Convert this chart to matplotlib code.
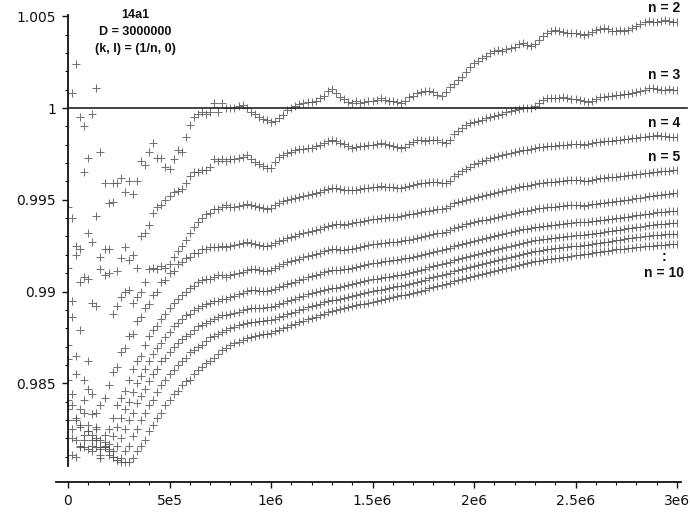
import numpy as np
import matplotlib
matplotlib.use("Agg")
import matplotlib.pyplot as plt
from matplotlib.ticker import MultipleLocator, FixedLocator, FixedFormatter

# ---------------- data ----------------
D_STEP = 20000  # spacing of the sampled D values

n2 = [1.0051, 1.0008, 1.0024, 0.9995, 0.9990, 0.9973, 0.9997, 1.0011, 0.9976, 0.9959,
      0.9948, 0.9959, 0.9959, 0.9962, 0.9954, 0.9960, 0.9953, 0.9960, 0.9971, 0.9969,
      0.9976, 0.9981, 0.9973, 0.9973, 0.9968, 0.9967, 0.9972, 0.9977, 0.9976, 0.9984,
      0.9991, 0.9995, 0.9997, 0.9998, 0.9997, 0.9998, 1.0003, 0.9998, 1.0003, 1.0000,
      1.0000,
      1.00000, 1.00011, 1.00017, 1.00000, 0.99979, 0.99968, 0.99951, 0.99940, 0.99935, 0.99924,
      0.99930, 0.99946, 0.99962, 0.99990, 1.00000, 1.00011, 1.00022, 1.00028, 1.00033, 1.00033,
      1.00039, 1.00055, 1.00066, 1.00093, 1.00104, 1.00082, 1.00060, 1.00049, 1.00033, 1.00028,
      1.00039, 1.00028, 1.00033, 1.00039, 1.00039, 1.00044, 1.00055, 1.00044, 1.00039, 1.00039,
      1.00033, 1.00028, 1.00039, 1.00060, 1.00066, 1.00082, 1.00087, 1.00093, 1.00093, 1.00087,
      1.00071, 1.00066, 1.00087, 1.00115, 1.00131, 1.00153, 1.00169, 1.00197, 1.00224, 1.00246,
      1.00257, 1.00273, 1.00284, 1.00300, 1.00311, 1.00316, 1.00311, 1.00322, 1.00327, 1.00333,
      1.00349, 1.00355, 1.00344, 1.00338, 1.00349, 1.00371, 1.00393, 1.00409, 1.00420, 1.00426,
      1.00420, 1.00415, 1.00409, 1.00409, 1.00409, 1.00404, 1.00398, 1.00404, 1.00415, 1.00426,
      1.00431, 1.00436, 1.00431, 1.00420, 1.00420, 1.00426, 1.00420, 1.00426, 1.00436, 1.00447,
      1.00458, 1.00469, 1.00475, 1.00469, 1.00469, 1.00475, 1.00480, 1.00475, 1.00469, 1.00469]

n3 = [0.9946, 0.9940, 0.9925, 0.9923, 0.9965, 0.9932, 0.9927, 0.9941, 0.9919, 0.9923,
      0.9923, 0.9949, 0.9911, 0.9918, 0.9924, 0.9917, 0.9920, 0.9913, 0.9930, 0.9932,
      0.9936, 0.9943, 0.9946, 0.9947, 0.9950, 0.9952, 0.9954, 0.9955, 0.9956, 0.9959,
      0.9963, 0.9965, 0.9965, 0.9966, 0.9966, 0.9968, 0.9972, 0.9971, 0.9972, 0.9971,
      0.9972,
      0.99723, 0.99728, 0.99733, 0.99744, 0.99723, 0.99706, 0.99695, 0.99684, 0.99673, 0.99673,
      0.99706, 0.99733, 0.99744, 0.99755, 0.99761, 0.99772, 0.99777, 0.99777, 0.99782, 0.99782,
      0.99793, 0.99799, 0.99810, 0.99821, 0.99826, 0.99821, 0.99810, 0.99804, 0.99793, 0.99782,
      0.99788, 0.99793, 0.99793, 0.99799, 0.99799, 0.99804, 0.99810, 0.99804, 0.99799, 0.99793,
      0.99788, 0.99782, 0.99788, 0.99804, 0.99815, 0.99826, 0.99826, 0.99821, 0.99826, 0.99826,
      0.99826, 0.99815, 0.99810, 0.99826, 0.99859, 0.99875, 0.99891, 0.99908, 0.99919, 0.99924,
      0.99930, 0.99935, 0.99946, 0.99951, 0.99957, 0.99962, 0.99968, 0.99979, 0.99984, 0.99990,
      0.99995, 1.00000, 1.00000, 1.00000, 1.00011, 1.00028, 1.00044, 1.00055, 1.00055, 1.00055,
      1.00055, 1.00060, 1.00055, 1.00049, 1.00049, 1.00044, 1.00039, 1.00033, 1.00039, 1.00049,
      1.00060, 1.00060, 1.00066, 1.00066, 1.00071, 1.00071, 1.00077, 1.00077, 1.00082, 1.00087,
      1.00093, 1.00098, 1.00109, 1.00109, 1.00104, 1.00098, 1.00098, 1.00104, 1.00098, 1.00098]

n4 = [0.9913, 0.9886, 0.9920, 0.9905, 0.9908, 0.9907, 0.9894, 0.9892, 0.9912, 0.9909,
      0.9910, 0.9888, 0.9892, 0.9897, 0.9900, 0.9901, 0.9894, 0.9897, 0.9900, 0.9905,
      0.9912, 0.9913, 0.9912, 0.9914, 0.9913, 0.9915, 0.9919, 0.9922, 0.9925, 0.9928,
      0.9932, 0.9935, 0.9938, 0.9940, 0.9942, 0.9943, 0.9945, 0.9945, 0.9946, 0.9947,
      0.9946,
      0.99461, 0.99466, 0.99472, 0.99477, 0.99472, 0.99466, 0.99461, 0.99455, 0.99450, 0.99455,
      0.99472, 0.99483, 0.99494, 0.99499, 0.99505, 0.99510, 0.99515, 0.99521, 0.99526, 0.99532,
      0.99537, 0.99543, 0.99554, 0.99559, 0.99565, 0.99565, 0.99559, 0.99554, 0.99554, 0.99554,
      0.99554, 0.99559, 0.99565, 0.99565, 0.99570, 0.99570, 0.99575, 0.99570, 0.99570, 0.99570,
      0.99565, 0.99565, 0.99570, 0.99575, 0.99581, 0.99586, 0.99592, 0.99592, 0.99597, 0.99597,
      0.99597, 0.99592, 0.99592, 0.99603, 0.99630, 0.99641, 0.99657, 0.99668, 0.99679, 0.99695,
      0.99701, 0.99712, 0.99717, 0.99728, 0.99733, 0.99739, 0.99744, 0.99750, 0.99755, 0.99761,
      0.99766, 0.99772, 0.99772, 0.99777, 0.99782, 0.99788, 0.99788, 0.99793, 0.99793, 0.99793,
      0.99799, 0.99799, 0.99799, 0.99804, 0.99804, 0.99804, 0.99799, 0.99804, 0.99810, 0.99815,
      0.99815, 0.99821, 0.99821, 0.99821, 0.99826, 0.99826, 0.99831, 0.99831, 0.99837, 0.99837,
      0.99842, 0.99842, 0.99848, 0.99848, 0.99853, 0.99848, 0.99848, 0.99842, 0.99842, 0.99842]

n5 = [0.9871, 0.9895, 0.9865, 0.9879, 0.9852, 0.9862, 0.9844, 0.9834, 0.9838, 0.9842,
      0.9849, 0.9856, 0.9859, 0.9867, 0.9869, 0.9876, 0.9877, 0.9884, 0.9886, 0.9891,
      0.9893, 0.9898, 0.9900, 0.9905, 0.9906, 0.9910, 0.9911, 0.9915, 0.9916, 0.9918,
      0.9919, 0.9921, 0.9921, 0.9923, 0.9923, 0.9924, 0.9924, 0.9924, 0.9925, 0.9924,
      0.9925,
      0.99254, 0.99259, 0.99265, 0.99270, 0.99265, 0.99259, 0.99254, 0.99248, 0.99248, 0.99254,
      0.99265, 0.99276, 0.99281, 0.99292, 0.99297, 0.99303, 0.99314, 0.99319, 0.99325, 0.99330,
      0.99336, 0.99341, 0.99352, 0.99357, 0.99363, 0.99368, 0.99368, 0.99363, 0.99368, 0.99374,
      0.99379, 0.99379, 0.99385, 0.99390, 0.99395, 0.99395, 0.99401, 0.99401, 0.99406, 0.99406,
      0.99406, 0.99412, 0.99417, 0.99423, 0.99423, 0.99428, 0.99434, 0.99439, 0.99439, 0.99445,
      0.99450, 0.99450, 0.99455, 0.99466, 0.99483, 0.99488, 0.99494, 0.99499, 0.99505, 0.99510,
      0.99515, 0.99521, 0.99526, 0.99532, 0.99537, 0.99543, 0.99548, 0.99554, 0.99559, 0.99565,
      0.99570, 0.99575, 0.99575, 0.99581, 0.99586, 0.99592, 0.99592, 0.99597, 0.99597, 0.99597,
      0.99603, 0.99603, 0.99608, 0.99608, 0.99608, 0.99608, 0.99603, 0.99603, 0.99608, 0.99613,
      0.99619, 0.99619, 0.99624, 0.99624, 0.99624, 0.99630, 0.99630, 0.99635, 0.99635, 0.99641,
      0.99641, 0.99646, 0.99646, 0.99651, 0.99651, 0.99657, 0.99657, 0.99657, 0.99662, 0.99662]

n6 = [0.9863, 0.9844, 0.9855, 0.9836, 0.9841, 0.9847, 0.9833, 0.9825, 0.9819, 0.9822,
      0.9825, 0.9831, 0.9838, 0.9842, 0.9846, 0.9852, 0.9858, 0.9862, 0.9865, 0.9871,
      0.9876, 0.9879, 0.9881, 0.9885, 0.9888, 0.9891, 0.9894, 0.9896, 0.9898, 0.9900,
      0.9902, 0.9903, 0.9905, 0.9906, 0.9907, 0.9907, 0.9908, 0.9909, 0.9909, 0.9908,
      0.9909,
      0.99096, 0.99101, 0.99107, 0.99118, 0.99123, 0.99123, 0.99118, 0.99112, 0.99112, 0.99118,
      0.99128, 0.99139, 0.99150, 0.99161, 0.99167, 0.99172, 0.99178, 0.99188, 0.99194, 0.99199,
      0.99205, 0.99210, 0.99221, 0.99226, 0.99232, 0.99232, 0.99226, 0.99226, 0.99232, 0.99232,
      0.99237, 0.99243, 0.99248, 0.99254, 0.99259, 0.99259, 0.99265, 0.99265, 0.99270, 0.99270,
      0.99270, 0.99276, 0.99281, 0.99281, 0.99287, 0.99292, 0.99297, 0.99303, 0.99308, 0.99314,
      0.99319, 0.99319, 0.99325, 0.99336, 0.99346, 0.99352, 0.99357, 0.99368, 0.99374, 0.99379,
      0.99385, 0.99390, 0.99390, 0.99395, 0.99401, 0.99406, 0.99412, 0.99417, 0.99423, 0.99428,
      0.99434, 0.99439, 0.99439, 0.99445, 0.99450, 0.99455, 0.99455, 0.99461, 0.99461, 0.99461,
      0.99466, 0.99466, 0.99472, 0.99472, 0.99472, 0.99472, 0.99466, 0.99472, 0.99477, 0.99477,
      0.99483, 0.99483, 0.99488, 0.99488, 0.99494, 0.99494, 0.99499, 0.99499, 0.99505, 0.99510,
      0.99510, 0.99515, 0.99521, 0.99521, 0.99526, 0.99526, 0.99532, 0.99532, 0.99537, 0.99537]

n7 = [0.9852, 0.9838, 0.9830, 0.9816, 0.9834, 0.9824, 0.9819, 0.9826, 0.9815, 0.9815,
      0.9817, 0.9821, 0.9826, 0.9831, 0.9836, 0.9840, 0.9845, 0.9850, 0.9854, 0.9858,
      0.9862, 0.9866, 0.9869, 0.9872, 0.9875, 0.9878, 0.9881, 0.9883, 0.9885, 0.9887,
      0.9888, 0.9890, 0.9891, 0.9892, 0.9893, 0.9894, 0.9895, 0.9895, 0.9896, 0.9896,
      0.9897,
      0.98976, 0.98987, 0.98992, 0.99003, 0.99008, 0.99008, 0.99003, 0.99003, 0.99003, 0.99008,
      0.99014, 0.99025, 0.99030, 0.99041, 0.99047, 0.99052, 0.99063, 0.99068, 0.99079, 0.99085,
      0.99090, 0.99096, 0.99107, 0.99112, 0.99118, 0.99118, 0.99118, 0.99123, 0.99123, 0.99128,
      0.99134, 0.99139, 0.99145, 0.99150, 0.99156, 0.99156, 0.99161, 0.99167, 0.99167, 0.99172,
      0.99172, 0.99178, 0.99183, 0.99183, 0.99188, 0.99194, 0.99199, 0.99205, 0.99210, 0.99216,
      0.99221, 0.99226, 0.99232, 0.99237, 0.99248, 0.99254, 0.99259, 0.99265, 0.99270, 0.99276,
      0.99281, 0.99287, 0.99292, 0.99297, 0.99303, 0.99308, 0.99314, 0.99319, 0.99325, 0.99330,
      0.99336, 0.99341, 0.99341, 0.99346, 0.99352, 0.99352, 0.99357, 0.99357, 0.99363, 0.99363,
      0.99368, 0.99368, 0.99374, 0.99374, 0.99379, 0.99379, 0.99379, 0.99379, 0.99385, 0.99385,
      0.99390, 0.99390, 0.99395, 0.99395, 0.99401, 0.99401, 0.99406, 0.99406, 0.99412, 0.99417,
      0.99417, 0.99423, 0.99423, 0.99428, 0.99434, 0.99434, 0.99434, 0.99439, 0.99439, 0.99439]

n8 = [0.9841, 0.9825, 0.9831, 0.9815, 0.9822, 0.9827, 0.9816, 0.9820, 0.9814, 0.9815,
      0.9811, 0.9813, 0.9816, 0.9820, 0.9825, 0.9830, 0.9834, 0.9839, 0.9843, 0.9847,
      0.9851, 0.9855, 0.9858, 0.9862, 0.9864, 0.9867, 0.9870, 0.9872, 0.9874, 0.9876,
      0.9877, 0.9879, 0.9881, 0.9882, 0.9883, 0.9884, 0.9885, 0.9886, 0.9887, 0.9887,
      0.9888,
      0.98883, 0.98889, 0.98900, 0.98905, 0.98910, 0.98910, 0.98910, 0.98910, 0.98916, 0.98916,
      0.98921, 0.98932, 0.98938, 0.98949, 0.98954, 0.98959, 0.98970, 0.98976, 0.98987, 0.98992,
      0.98997, 0.99003, 0.99008, 0.99014, 0.99019, 0.99019, 0.99025, 0.99030, 0.99036, 0.99041,
      0.99047, 0.99052, 0.99058, 0.99063, 0.99068, 0.99068, 0.99074, 0.99079, 0.99079, 0.99085,
      0.99090, 0.99090, 0.99096, 0.99101, 0.99107, 0.99112, 0.99118, 0.99123, 0.99134, 0.99139,
      0.99145, 0.99150, 0.99156, 0.99161, 0.99172, 0.99178, 0.99183, 0.99188, 0.99194, 0.99199,
      0.99205, 0.99210, 0.99216, 0.99221, 0.99226, 0.99232, 0.99237, 0.99243, 0.99248, 0.99254,
      0.99259, 0.99265, 0.99270, 0.99276, 0.99281, 0.99281, 0.99287, 0.99287, 0.99292, 0.99292,
      0.99297, 0.99297, 0.99303, 0.99303, 0.99308, 0.99308, 0.99308, 0.99314, 0.99314, 0.99319,
      0.99319, 0.99325, 0.99330, 0.99330, 0.99336, 0.99336, 0.99341, 0.99346, 0.99346, 0.99352,
      0.99352, 0.99357, 0.99363, 0.99363, 0.99368, 0.99368, 0.99368, 0.99374, 0.99374, 0.99374]

n9 = [0.9836, 0.9820, 0.9810, 0.9827, 0.9819, 0.9814, 0.9822, 0.9815, 0.9811, 0.9818,
      0.9813, 0.9810, 0.9808, 0.9809, 0.9813, 0.9816, 0.9821, 0.9825, 0.9830, 0.9834,
      0.9838, 0.9841, 0.9845, 0.9849, 0.9852, 0.9855, 0.9857, 0.9860, 0.9862, 0.9864,
      0.9867, 0.9868, 0.9870, 0.9871, 0.9873, 0.9875, 0.9876, 0.9877, 0.9878, 0.9879,
      0.9880,
      0.98807, 0.98818, 0.98823, 0.98829, 0.98834, 0.98834, 0.98840, 0.98840, 0.98845, 0.98845,
      0.98851, 0.98862, 0.98867, 0.98878, 0.98883, 0.98889, 0.98900, 0.98905, 0.98916, 0.98921,
      0.98927, 0.98932, 0.98943, 0.98949, 0.98954, 0.98954, 0.98959, 0.98965, 0.98970, 0.98976,
      0.98981, 0.98987, 0.98992, 0.98997, 0.99003, 0.99008, 0.99008, 0.99014, 0.99019, 0.99025,
      0.99030, 0.99030, 0.99036, 0.99041, 0.99047, 0.99052, 0.99058, 0.99063, 0.99074, 0.99079,
      0.99085, 0.99090, 0.99096, 0.99101, 0.99112, 0.99118, 0.99123, 0.99128, 0.99134, 0.99139,
      0.99145, 0.99150, 0.99156, 0.99161, 0.99167, 0.99172, 0.99178, 0.99183, 0.99188, 0.99194,
      0.99199, 0.99205, 0.99210, 0.99216, 0.99221, 0.99221, 0.99226, 0.99232, 0.99232, 0.99237,
      0.99237, 0.99243, 0.99243, 0.99248, 0.99248, 0.99248, 0.99254, 0.99254, 0.99259, 0.99265,
      0.99265, 0.99270, 0.99270, 0.99276, 0.99281, 0.99281, 0.99287, 0.99292, 0.99292, 0.99297,
      0.99297, 0.99303, 0.99303, 0.99308, 0.99308, 0.99308, 0.99314, 0.99314, 0.99314, 0.99314]

n10 = [0.9830, 0.9811, 0.9819, 0.9826, 0.9815, 0.9824, 0.9813, 0.9819, 0.9809, 0.9816,
       0.9814, 0.9810, 0.9808, 0.9807, 0.9807, 0.9807, 0.9809, 0.9813, 0.9816, 0.9819,
       0.9824, 0.9827, 0.9831, 0.9834, 0.9838, 0.9841, 0.9844, 0.9846, 0.9849, 0.9851,
       0.9852, 0.9855, 0.9857, 0.9859, 0.9861, 0.9862, 0.9864, 0.9866, 0.9868, 0.9869,
       0.9871,
       0.98720, 0.98725, 0.98736, 0.98747, 0.98752, 0.98758, 0.98763, 0.98769, 0.98769, 0.98774,
       0.98785, 0.98791, 0.98802, 0.98807, 0.98818, 0.98823, 0.98834, 0.98840, 0.98851, 0.98856,
       0.98862, 0.98872, 0.98878, 0.98889, 0.98894, 0.98900, 0.98905, 0.98910, 0.98916, 0.98921,
       0.98927, 0.98932, 0.98932, 0.98938, 0.98943, 0.98949, 0.98954, 0.98959, 0.98965, 0.98970,
       0.98976, 0.98981, 0.98981, 0.98987, 0.98992, 0.98997, 0.99003, 0.99008, 0.99019, 0.99025,
       0.99030, 0.99036, 0.99041, 0.99047, 0.99058, 0.99063, 0.99068, 0.99074, 0.99079, 0.99085,
       0.99090, 0.99096, 0.99101, 0.99107, 0.99112, 0.99118, 0.99123, 0.99128, 0.99134, 0.99139,
       0.99145, 0.99150, 0.99156, 0.99161, 0.99167, 0.99167, 0.99172, 0.99178, 0.99178, 0.99183,
       0.99183, 0.99188, 0.99188, 0.99194, 0.99199, 0.99199, 0.99205, 0.99205, 0.99210, 0.99216,
       0.99216, 0.99221, 0.99221, 0.99226, 0.99232, 0.99232, 0.99232, 0.99237, 0.99237, 0.99243,
       0.99243, 0.99248, 0.99248, 0.99248, 0.99254, 0.99254, 0.99254, 0.99259, 0.99259, 0.99259]

series = [n2, n3, n4, n5, n6, n7, n8, n9, n10]

x_ticks = [0, 500000, 1000000, 1500000, 2000000, 2500000, 3000000]
x_tick_labels = ["0", "5e5", "1e6", "1.5e6", "2e6", "2.5e6", "3e6"]
y_ticks = [0.985, 0.99, 0.995, 1.0, 1.005]
y_tick_labels = ["0.985", "0.99", "0.995", "1", "1.005"]

title_lines = ["14a1", "D = 3000000", "(k, l) = (1/n, 0)"]
n_labels = [("n = 2", 1.00545), ("n = 3", 1.00180), ("n = 4", 0.99919),
            ("n = 5", 0.99733), (":", 0.99188), ("n = 10", 0.99101)]

# ---------------- figure ----------------
W, H = 690, 512
fig = plt.figure(figsize=(W / 100, H / 100), dpi=100)
ax = fig.add_axes([68 / W, 46 / H, 609 / W, 451 / H])

mark_color = "#505050"
for vals in series:
    xs = D_STEP * np.arange(len(vals))
    ax.plot(xs, vals, linestyle="none", marker="+", markersize=5.3,
            markeredgewidth=0.75, color=mark_color, alpha=0.8)

ax.set_xlim(0, 3000000)
ax.set_ylim(0.98049, 1.00507)

# horizontal line at 1
ax.plot([0, 3050000], [1.0, 1.0], color="#222222", lw=1.2, clip_on=False, zorder=3)

# spines
for s in ["top", "right"]:
    ax.spines[s].set_visible(False)
ax.spines["left"].set_linewidth(1.3)
ax.spines["bottom"].set_linewidth(1.3)
ax.spines["bottom"].set_position(("outward", 11.5))
ax.spines["bottom"].set_bounds(-60000, 3020000)
ax.spines["left"].set_color("#111111")
ax.spines["bottom"].set_color("#111111")

ax.xaxis.set_major_locator(FixedLocator(x_ticks))
ax.xaxis.set_major_formatter(FixedFormatter(x_tick_labels))
ax.xaxis.set_minor_locator(MultipleLocator(100000))
ax.yaxis.set_major_locator(FixedLocator(y_ticks))
ax.yaxis.set_major_formatter(FixedFormatter(y_tick_labels))
ax.yaxis.set_minor_locator(MultipleLocator(0.001))

ax.tick_params(which="major", direction="out", length=4.5, width=1.0,
               labelsize=10, colors="#111111", pad=4)
ax.tick_params(which="minor", direction="out", length=2.5, width=0.8, colors="#111111")

# annotations
for k, t in enumerate(title_lines):
    ax.annotate(t, xy=(135 / W, 1 - (15 + 17 * k) / H), xycoords="figure fraction",
                ha="center", va="center", fontsize=9, fontweight="bold",
                family=["Liberation Sans", "DejaVu Sans"], color="#111111")

for t, yv in n_labels:
    ax.text(2936000, yv, t, ha="center", va="center", fontsize=10, fontweight="bold",
            family=["Liberation Sans", "DejaVu Sans"], color="#111111", clip_on=False)

fig.savefig("out.png", dpi=100)
